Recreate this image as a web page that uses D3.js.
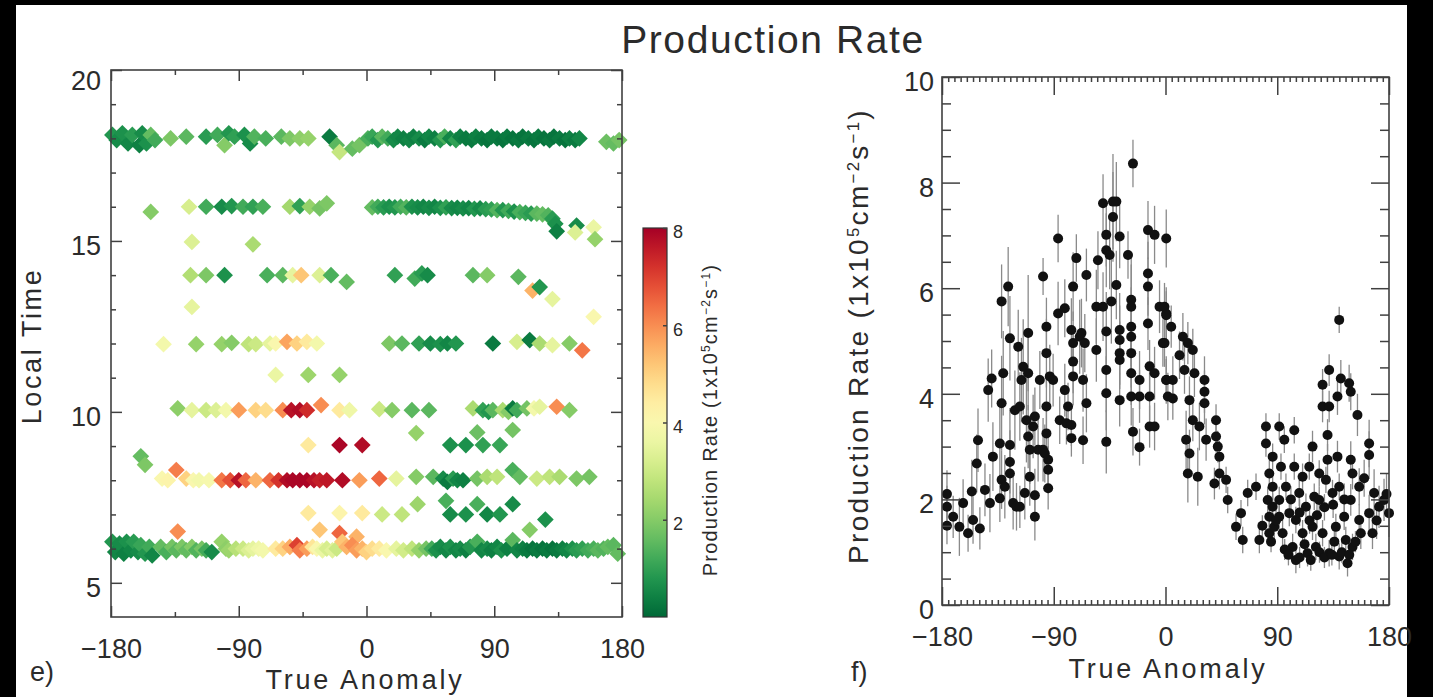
<!DOCTYPE html>
<html>
<head>
<meta charset="utf-8">
<title>production rate</title>
<script src="https://cdn.jsdelivr.net/npm/d3@7"></script>
<style>
  body { margin: 0; background: #000; }
  text { font-family: "Liberation Sans", Arial, sans-serif; fill: #2b2b2b; }
</style>
</head>
<body>
<script>
// ---- tick labels ----
var taTicks = [-180, -90, 0, 90, 180];
var ltTicks = [5, 10, 15, 20];
var rateTicks = [0, 2, 4, 6, 8, 10];
var cbTicks = [2, 4, 6, 8];

// ---- panel e: [true anomaly, local time, production rate] by local time row ----
var row18 = [[-179,18.1,0.8],[-176,17.95,0.6],[-172,18.15,0.7],[-168,17.85,0.5],[-165,18.1,0.9],[-160,17.8,0.4],
  [-158,18.15,0.6],[-155,17.85,0.7],[-152,18.1,1.6],[-149,17.95,1.2],[-138,18.0,1.9],[-127,18.05,1.5],[-113,18.05,0.9],
  [-105,18.1,1.2],[-100,17.8,2.0],[-97,18.15,0.8],[-93,18.05,1.0],[-86,18.1,0.7],[-82,17.85,0.6],[-79,18.05,1.4],
  [-71,18.0,1.3],[-60,18.05,1.5],[-54,18.0,1.9],[-47,18.0,2.1],[-41,18.0,2.2],[-26,18.05,0.3],[-21,17.8,1.5],
  [-19,17.6,2.9],[-10,17.7,1.6],[-5,17.8,1.8],
  [1,18.0,1.3],[4,18.05,1.1],[8,17.95,0.8],[11,18.05,1.5],[15,18.0,1.2],[19,17.95,0.6],[22,18.05,0.5],[26,18.0,0.4],
  [30,17.95,0.5],[33,18.05,0.4],[37,18.0,0.6],[41,17.95,0.3],[44,18.05,0.5],[48,18.0,0.4],[52,17.95,0.8],[55,18.05,1.3],
  [59,18.0,0.5],[63,17.95,1.0],[66,18.05,0.4],[70,18.0,0.3],[74,17.95,0.3],[77,18.05,0.4],[81,18.0,0.3],[85,17.95,0.2],
  [88,18.05,0.3],[92,18.0,0.3],[96,17.95,0.2],[99,18.05,0.3],[103,18.0,0.2],[107,17.95,0.3],[110,18.05,0.2],
  [114,18.0,0.3],[118,17.95,0.2],[121,18.05,0.3],[125,18.0,0.2],[129,17.95,0.3],[132,18.05,0.2],[136,18.0,0.3],
  [140,17.95,0.2],[143,18.0,0.4],[147,17.95,0.3],[150,18.0,0.5],
  [169,17.9,1.7],[174,17.85,1.6],[178,17.95,1.8]];
var row16 = [[-152,15.85,2.0],[-125,16.0,3.2],[-113,16.0,1.2],[-102,16.0,0.6],[-95,16.02,0.8],[-87,16.0,1.2],
  [-80,16.0,1.0],[-73,16.0,1.3],[-54,16.0,2.4],[-47,16.02,1.0],[-40,16.0,2.2],[-33,15.95,1.8],[-28,16.1,1.9],
  [4,15.98,1.6],[8,16.0,1.2],[12,15.98,0.9],[16,16.0,0.7],[20,15.98,0.8],[24,16.0,1.2],[28,15.98,1.4],[32,16.0,0.7],
  [36,15.98,0.6],[40,16.0,0.5],[44,15.97,0.6],[48,16.0,0.5],[52,15.97,0.7],[56,15.98,1.0],[60,15.96,0.6],
  [64,15.97,0.5],[68,15.95,0.6],[72,15.96,0.5],[76,15.94,0.8],[80,15.95,0.6],[84,15.93,0.9],[88,15.92,1.0],
  [92,15.9,1.4],[96,15.9,0.8],[100,15.88,1.2],[104,15.86,0.7],[108,15.84,1.3],[112,15.82,1.1],[116,15.8,0.9],
  [120,15.8,1.5],[124,15.78,1.6],[128,15.75,1.4],[131,15.65,0.9],[133,15.5,0.7],[134,15.28,0.4],
  [148,15.45,0.6],[147,15.25,3.3],[160,15.4,3.6],[161,15.05,2.2]];
var row15 = [[-123,14.97,3.3],[-80,14.9,2.5]];
var row14 = [[-124,14.0,2.6],[-113,14.0,1.9],[-100,14.0,0.7],[-70,14.0,1.3],[-59,14.0,1.5],[-52,14.0,3.5],
  [-46,14.0,5.2],[-33,14.0,3.3],[-25,14.0,1.3],[-14,13.8,1.6],[20,14.0,1.0],[34,13.9,1.2],[39,14.05,0.9],
  [43,14.0,0.6],[75,14.0,1.5],[85,14.0,2.0],[107,13.95,1.5],[117,13.55,5.5],[122,13.65,0.8],[131,13.3,3.5]];
var row13 = [[-123,13.07,3.5],[160,12.78,4.0]];
var row12 = [[-143,11.98,3.8],[-120,11.98,2.2],[-102,11.98,2.2],[-95,12.02,2.0],[-83,11.98,2.8],[-78,11.98,3.0],
  [-68,12.0,3.5],[-64,12.0,4.0],[-56,12.05,5.7],[-49,12.0,5.0],[-42,12.05,4.5],[-35,12.0,3.8],[16,12.0,1.9],
  [25,12.0,1.5],[37,12.0,1.0],[45,12.0,0.6],[52,11.98,0.7],[57,12.0,0.5],[63,12.0,0.8],[89,12.0,0.3],
  [106,12.05,3.2],[115,12.1,0.3],[122,12.0,2.5],[131,11.95,3.5],[143,12.0,2.0],[152,11.8,6.3]];
var row11 = [[-64,11.08,3.6],[-41,11.08,2.3],[-19,11.08,2.2]];
var row10 = [[-133,10.1,2.1],[-123,10.05,3.5],[-113,10.05,3.0],[-106,10.05,3.3],[-99,10.05,3.8],[-90,10.05,5.8],
  [-78,10.05,5.0],[-71,10.05,4.8],[-59,10.05,6.0],[-53,10.05,7.7],[-47,10.05,7.8],[-42,10.05,7.3],[-32,10.2,6.0],
  [-19,10.05,4.5],[-12,10.05,3.7],[9,10.08,3.0],[18,10.05,2.0],[32,10.05,1.5],[44,10.05,1.5],[75,10.1,2.5],
  [82,10.05,1.0],[86,10.0,0.8],[89,10.05,1.5],[96,10.05,2.5],[100,10.0,2.0],[103,10.1,0.3],[106,10.05,1.2],
  [113,10.1,1.8],[118,10.1,3.8],[122,10.15,3.5],[134,10.15,6.0],[143,10.05,2.0]];
var row9 = [[-41,9.03,4.5],[-19,9.03,7.9],[-3,9.03,7.8],[59,9.03,0.7],[70,9.03,0.7],[82,9.03,1.0],[94,9.03,1.1],
  [35,9.38,2.2],[78,9.4,1.7],[103,9.47,1.8]];
var row8 = [[-159,8.7,1.6],[-156,8.45,1.9],[-144,8.05,4.0],[-140,8.0,4.2],[-134,8.3,6.2],[-127,8.05,5.0],
  [-122,8.0,4.0],[-118,8.0,3.8],[-111,8.0,3.9],[-102,8.0,6.3],[-96,8.0,6.8],[-90,8.0,7.7],[-85,8.0,6.5],
  [-78,8.0,5.5],[-68,8.0,6.5],[-62,8.0,7.2],[-56,8.0,7.8],[-52,8.0,7.9],[-47,8.0,7.9],[-42,8.0,7.9],[-37,8.0,7.7],
  [-33,8.0,7.5],[-28,8.0,7.6],[-17,8.0,7.8],[-5,8.0,5.8],[9,8.05,6.5],[21,8.05,3.5],[35,8.1,2.0],[47,8.1,1.5],
  [54,8.05,0.6],[57,7.95,0.3],[61,8.05,0.9],[64,8.0,0.5],[68,8.0,0.4],[78,8.05,1.8],[85,8.1,2.5],[92,8.1,2.8],
  [103,8.3,1.3],[108,8.1,1.6],[120,8.05,3.0],[129,8.1,2.8],[136,8.1,2.5],[148,8.05,1.9],[157,8.1,1.8]];
var row7 = [[-41,7.04,4.5],[-19,7.04,4.2],[-3,7.04,4.5],[11,7.0,3.0],[25,7.0,2.8],[36,7.3,2.3],[56,7.4,1.3],
  [59,7.0,0.6],[70,7.0,0.7],[78,7.3,1.3],[85,7.0,0.5],[94,7.0,0.8],[103,7.3,0.6],[115,6.55,2.0],[126,6.85,0.7]];
var row6 = [[-133,6.5,6.0],[-33,6.55,5.2],[-19,6.45,6.5],[-7,6.35,5.5],
  [-179,6.2,0.8],[-177,5.9,0.5],[-174,6.15,0.6],[-171,5.85,0.4],[-169,6.2,0.7],[-166,5.95,0.5],[-164,6.2,0.9],
  [-161,5.9,0.6],[-159,6.1,1.1],[-156,5.85,0.8],[-153,6.05,1.2],[-151,5.8,0.5],[-145,6.05,1.6],[-141,5.9,1.3],
  [-137,6.05,1.8],[-134,5.95,1.5],[-130,6.05,1.9],[-127,5.95,1.6],[-123,6.05,2.0],[-120,5.95,1.4],[-116,6.0,1.8],
  [-113,5.95,1.2],[-109,5.9,0.6],[-102,6.2,2.2],[-99,6.0,2.1],[-97,5.95,2.3],[-92,6.0,2.7],[-87,6.0,3.0],
  [-83,5.95,3.3],[-80,6.0,3.5],[-76,6.0,3.7],[-73,5.95,3.8],[-64,6.0,4.5],[-59,6.0,5.0],[-54,6.05,5.6],
  [-49,6.1,7.0],[-47,5.95,6.2],[-42,6.0,5.8],[-38,6.05,4.6],[-35,6.0,4.0],[-31,5.95,3.6],[-28,6.0,3.2],
  [-24,5.95,3.4],[-21,6.0,3.0],[-17,6.2,5.2],[-14,6.05,5.5],[-10,6.1,6.0],[-7,5.95,5.8],[-3,6.0,5.5],[0,5.9,5.0],
  [4,6.0,4.8],[9,6.0,4.5],[14,5.95,4.0],[21,6.0,3.5],[26,5.95,3.1],[32,6.0,2.8],[37,5.95,2.2],[42,6.0,1.8],
  [46,6.0,1.2],[49,5.95,0.7],[52,6.05,0.6],[56,5.95,0.5],[59,6.05,0.7],[63,5.95,0.5],[66,6.0,0.6],[70,5.95,0.4],
  [73,6.05,0.8],[78,6.2,1.3],[81,5.95,0.5],[85,6.0,0.6],[88,5.95,0.4],[92,6.05,0.5],[95,5.95,0.7],[99,6.0,0.4],
  [103,6.25,1.5],[106,5.95,0.5],[110,6.0,0.4],[113,5.95,0.3],[117,6.0,0.2],[120,5.95,0.3],[124,6.0,0.2],
  [127,5.95,0.3],[131,6.0,0.2],[134,5.95,0.3],[138,6.0,0.4],[141,5.95,0.5],[145,6.0,0.7],[148,5.95,0.9],
  [152,6.0,1.0],[156,5.95,1.2],[160,6.0,1.3],[163,5.95,1.5],[167,6.0,1.4],[170,6.05,1.6],[174,6.1,1.5],[177,5.85,1.6]];

// ---- panel f: [true anomaly, production rate, error] ----
var rateBefore = [[-176,2.10,0.45],[-176,1.86,0.40],[-176,1.50,0.35],[-171,1.67,0.40],[-166,1.48,0.55],
  [-163,1.93,0.45],[-159,1.36,0.35],[-156,2.15,0.60],[-155,1.61,0.45],[-152,2.68,0.55],[-151,3.12,0.60],
  [-149.5,1.45,0.40],[-145.4,2.18,0.50],[-142.8,4.07,0.60],[-141.4,1.93,0.55],[-140,4.29,0.55],[-139,2.81,0.65],
  [-133.4,2.02,0.45],[-133.4,3.06,0.70],[-132,5.75,0.70],[-132,2.37,0.55],[-132,3.82,0.90],[-130.7,4.39,0.80],
  [-129.4,2.24,0.60],[-126.7,6.03,0.75],[-125.3,5.05,0.80],[-125.3,3.03,0.70],[-125.3,2.71,0.60],[-125.3,2.49,0.55],
  [-122.7,1.93,0.50],[-121.3,3.69,0.75],[-120,1.86,0.45],[-118.6,4.89,0.70],[-117.3,1.86,0.40],[-117.3,3.76,0.65],
  [-116,4.26,0.80],[-114.6,4.51,0.90],[-113.3,2.12,0.50],[-112,3.50,0.80],[-110.6,5.15,1.10],[-110.6,4.39,0.70],
  [-110.6,3.19,0.60],[-109.3,2.43,0.55],[-109.3,2.94,0.65],[-106.6,3.38,0.60],[-105.2,1.67,0.45],[-105.2,3.57,0.55],
  [-105.2,2.08,0.50],[-102.6,2.94,0.60],[-101.2,4.26,0.55],[-98.6,6.22,0.35],[-98.6,2.94,0.60],[-97.2,2.87,0.55],
  [-95.9,5.27,0.55],[-95.9,4.77,0.65],[-95.9,3.76,0.55],[-95.9,3.25,0.60],[-94.5,2.75,0.50],[-94.5,2.56,0.45],
  [-94.5,2.21,0.40],[-93.2,4.33,0.60],[-90.5,4.26,0.50],[-86.5,6.94,0.45],[-86.5,5.52,0.60],[-85.2,3.50,0.45],
  [-81.1,5.62,0.55],[-81.1,4.07,0.50],[-79.8,3.44,0.40],[-78.5,3.76,0.45],[-75.8,3.16,0.35],[-75.8,3.41,0.40],
  [-75.8,5.21,0.60],[-74.4,6.03,0.65],[-74.4,4.33,0.55],[-74.4,4.61,0.60],[-74.4,4.96,0.60],[-71.8,6.57,0.45],
  [-69.1,5.08,0.70],[-67.7,5.15,0.65],[-66.4,4.26,0.60],[-66.4,3.12,0.45],[-65.0,4.96,0.55],[-63.7,6.25,0.50],
  [-63.7,3.82,0.55],[-55.7,4.83,0.60],[-55.7,5.65,0.70],[-54.4,6.53,0.55],[-50.3,7.61,0.55],[-50.3,5.65,0.65],
  [-47.7,7.01,0.60],[-47.7,6.72,0.70],[-47.7,5.18,0.75],[-47.7,4.45,0.80],[-47.7,4.01,0.70],[-47.7,3.09,0.60],
  [-45.0,6.63,0.65],[-43.6,5.75,0.80],[-42.3,7.64,0.90],[-42.3,7.35,0.85],[-39.6,7.64,0.75],[-39.6,6.06,0.65],
  [-36.9,6.98,0.60],[-36.9,5.21,0.70],[-36.9,5.02,0.65],[-36.9,4.77,0.60],[-36.9,4.64,0.55],[-36.9,3.88,0.50],
  [-30.2,6.63,0.45],[-27.6,5.78,0.90],[-27.6,5.65,0.80],[-27.6,5.27,0.75],[-27.6,5.08,0.70],[-27.6,4.77,0.65],
  [-27.6,4.39,0.60],[-27.6,3.95,0.55],[-26.2,8.36,0.45],[-26.2,3.28,0.45],[-20.9,4.26,0.55],[-20.9,3.95,0.50],
  [-20.9,2.99,0.35],[-14.1,7.10,0.55],[-14.1,6.28,0.60],[-14.1,6.03,0.55],[-14.1,5.33,0.50],[-12.8,4.52,0.50],
  [-12.8,3.95,0.45],[-12.8,3.38,0.40],[-8.8,7.01,0.55],[-8.8,4.39,0.50],[-8.8,3.38,0.45],[-4.8,5.65,0.50],
  [-2.1,4.96,0.45],[0.6,6.94,0.55],[0.6,5.52,0.50],[0.6,4.26,0.45],[1.9,3.95,0.45]];
var rateAfter = [[-0.8,5.65,0.45],[0.6,5.49,0.45],[4.6,5.27,0.40],[-0.8,4.96,0.45],[0.6,4.26,0.40],[5.9,4.26,0.45],
  [5.9,3.91,0.40],[11.3,4.73,0.45],[14,5.08,0.45],[15.3,4.45,0.45],[18,4.96,0.40],[19.3,3.88,0.45],[22,4.83,0.40],
  [23.3,4.39,0.45],[16.6,3.13,0.55],[19.3,2.87,0.45],[18,2.49,0.55],[26,2.43,0.55],[22,3.50,0.40],[27.3,3.38,0.45],
  [31.4,4.26,0.45],[31.4,4.04,0.40],[31.4,3.82,0.40],[32.7,3.13,0.40],[40.7,3.50,0.30],[40.7,3.19,0.30],
  [42.1,3.00,0.30],[43.4,2.81,0.30],[39.4,2.30,0.30],[43.4,2.49,0.30],[48.8,2.37,0.25],[50.1,1.99,0.25],
  [56.8,1.48,0.25],[60.8,1.74,0.25],[62.2,1.23,0.25],[66.2,2.12,0.25],[72.9,2.24,0.25],[75.6,1.23,0.25],
  [80.9,3.38,0.25],[80.9,3.06,0.25],[83.6,2.49,0.25],[82.3,1.99,0.25],[83.6,1.67,0.25],[83.6,1.36,0.25],
  [86.3,2.81,0.25],[86.3,2.24,0.25],[86.3,1.86,0.25],[87.6,1.48,0.25],[91.6,3.38,0.25],[93,2.62,0.25],
  [91.6,1.99,0.25],[91.6,1.67,0.25],[94.3,1.36,0.25],[95.7,3.13,0.25],[97,2.24,0.25],[99.7,1.74,0.25],
  [102.4,1.10,0.25],[103.7,3.31,0.25],[103.7,2.62,0.25],[105,1.61,0.25],[105,0.85,0.25],[107.7,2.12,0.25],
  [110.4,2.43,0.25],[110.4,1.36,0.25],[113.1,1.86,0.25],[114.4,0.98,0.25],[115.8,2.62,0.25],[118.4,3.00,0.30],
  [118.4,1.48,0.25],[119.8,2.05,0.25],[121.1,1.10,0.25],[123.8,2.49,0.25],[123.8,1.99,0.25],[126.5,4.17,0.30],
  [126.5,3.76,0.30],[126.5,1.36,0.25],[129.2,2.37,0.25],[130.5,3.22,0.30],[130.5,2.75,0.30],[131.8,4.45,0.30],
  [131.8,3.76,0.30],[131.8,0.98,0.25],[134.5,2.12,0.25],[137.2,1.48,0.25],[138.5,3.95,0.35],[138.5,2.81,0.30],
  [139.9,5.40,0.25],[139.9,2.24,0.25],[139.9,0.92,0.25],[141.2,4.29,0.35],[143.9,1.67,0.25],[145.2,1.23,0.25],
  [146.6,0.79,0.25],[147.9,4.20,0.35],[149.2,4.04,0.35],[149.2,2.75,0.35],[150.6,2.49,0.30],[149.2,1.99,0.30],
  [150.6,1.10,0.25],[154.6,3.60,0.40],[156,2.24,0.35],[156,1.61,0.30],[157.3,1.36,0.30],[164,3.06,0.45],
  [164,2.84,0.45],[164,1.74,0.35],[166.7,1.36,0.30],[168,2.12,0.45],[172,1.86,0.40],[176,1.99,0.40],[180,1.74,0.45],
  [96,1.05,0.2],[99,0.95,0.2],[108,0.9,0.2],[112,1.15,0.2],[117,0.85,0.2],[124,1.0,0.2],[128,0.9,0.2],
  [134,0.95,0.2],[136,1.2,0.2],[142,1.0,0.2],[148,0.95,0.2],[153,1.2,0.2],[89,1.6,0.2],[85,1.2,0.2],[78,1.5,0.2],
  [101,2.0,0.25],[108,1.75,0.25],[116,1.6,0.25],[122,1.7,0.25],[128,1.85,0.25],[135,1.9,0.25],[144,2.0,0.3],
  [160,2.4,0.35],[170,1.6,0.35],[178,2.1,0.4]];

var W = 1433, H = 697;
var ink = "#404040";

var svg = d3.select("body").append("svg").attr("width", W).attr("height", H);
svg.append("rect").attr("x", 16).attr("y", 5).attr("width", 1391).attr("height", 692).attr("fill", "#fff");

function styleAxis(g, size) {
  g.attr("font-family", null).attr("font-size", null);
  g.select(".domain").remove();
  g.selectAll("line").attr("stroke", ink).attr("stroke-width", 1.5);
  g.selectAll("text").style("font-size", size + "px").attr("fill", "#2b2b2b");
}

// ================= panel e =================
var xL = d3.scaleLinear().domain([-180, 180]).range([111, 622]);
var yL = d3.scaleLinear().domain([4, 20]).range([617, 70]);
var color = function(v) { return d3.interpolateRdYlGn(1 - Math.max(0, Math.min(8, v)) / 8); };

var allRows = [row6, row7, row8, row9, row10, row11, row12, row13, row14, row15, row16, row18];
var diamond = d3.symbol().type(d3.symbolSquare).size(140);
var gL = svg.append("g");
allRows.forEach(function(row) {
  gL.selectAll(null).data(row).enter().append("path")
    .attr("d", diamond)
    .attr("transform", function(d) { return "translate(" + xL(d[0]) + "," + yL(d[1]) + ") rotate(45)"; })
    .attr("fill", function(d) { return color(d[2]); });
});

var ltMinor = d3.range(5, 20).filter(function(v) { return v % 5 != 0; });
svg.append("g").attr("transform", "translate(0,617)")
  .call(d3.axisBottom(xL).tickValues(taTicks).tickSize(-11).tickPadding(22).tickSizeOuter(0))
  .call(styleAxis, 27);
svg.append("g").attr("transform", "translate(0,617)")
  .call(d3.axisBottom(xL).tickValues([-135, -45, 45, 135]).tickSize(-5).tickFormat("")).call(styleAxis, 27);
svg.append("g").attr("transform", "translate(0,70)")
  .call(d3.axisTop(xL).tickValues(taTicks).tickSize(-11).tickFormat("")).call(styleAxis, 27);
svg.append("g").attr("transform", "translate(0,70)")
  .call(d3.axisTop(xL).tickValues([-135, -45, 45, 135]).tickSize(-5).tickFormat("")).call(styleAxis, 27);
var ly = svg.append("g").attr("transform", "translate(111,0)")
  .call(d3.axisLeft(yL).tickValues(ltTicks).tickSize(-11).tickPadding(10)).call(styleAxis, 27);
ly.selectAll("text").attr("dy", function(d) { return d == 20 ? "0.72em" : "0.5em"; });
svg.append("g").attr("transform", "translate(111,0)")
  .call(d3.axisLeft(yL).tickValues(ltMinor).tickSize(-5).tickFormat("")).call(styleAxis, 27);
svg.append("g").attr("transform", "translate(622,0)")
  .call(d3.axisRight(yL).tickValues(ltTicks).tickSize(-11).tickFormat("")).call(styleAxis, 27);
svg.append("g").attr("transform", "translate(622,0)")
  .call(d3.axisRight(yL).tickValues(ltMinor).tickSize(-5).tickFormat("")).call(styleAxis, 27);
svg.append("rect").attr("x", 111).attr("y", 70).attr("width", 511).attr("height", 547)
  .attr("fill", "none").attr("stroke", ink).attr("stroke-width", 1.6);

// colour bar
var cb = d3.scaleLinear().domain([0, 8]).range([617, 228]);
var grad = svg.append("defs").append("linearGradient").attr("id", "cbgrad")
  .attr("x1", 0).attr("y1", 1).attr("x2", 0).attr("y2", 0);
grad.selectAll("stop").data(d3.range(0, 1.0001, 0.05)).enter().append("stop")
  .attr("offset", function(t) { return t; })
  .attr("stop-color", function(t) { return color(t * 8); });
svg.append("rect").attr("x", 643).attr("y", 228).attr("width", 24).attr("height", 389)
  .attr("fill", "url(#cbgrad)").attr("stroke", "#333").attr("stroke-width", 1.2);
var cbAxis = svg.append("g").attr("transform", "translate(667,0)")
  .call(d3.axisRight(cb).tickValues(cbTicks).tickSize(-4).tickPadding(6)).call(styleAxis, 18);
cbAxis.selectAll("text").attr("dy", "0.55em");

// ================= panel f =================
var xR = d3.scaleLinear().domain([-180, 180]).range([942, 1389]);
var yR = d3.scaleLinear().domain([0, 10]).range([605, 77]);
var allRates = rateBefore.concat(rateAfter);

var gR = svg.append("g");
gR.selectAll(".err").data(allRates).enter().append("line").attr("class", "err")
  .attr("x1", function(d) { return xR(d[0]); }).attr("x2", function(d) { return xR(d[0]); })
  .attr("y1", function(d) { return yR(d[1] - d[2]); }).attr("y2", function(d) { return yR(d[1] + d[2]); })
  .attr("stroke", "#8a8a8a").attr("stroke-width", 1.3);
gR.selectAll(".dot").data(allRates).enter().append("circle").attr("class", "dot")
  .attr("cx", function(d) { return xR(d[0]); }).attr("cy", function(d) { return yR(d[1]); })
  .attr("r", 5).attr("fill", "#111");

var taMinor = d3.range(-175, 180, 5).filter(function(v) { return v % 90 != 0; });
var rateMinor = d3.range(0.5, 10, 0.5).filter(function(v) { return v % 2 != 0; });
svg.append("g").attr("transform", "translate(0,605)")
  .call(d3.axisBottom(xR).tickValues(taTicks).tickSize(-18).tickPadding(22)).call(styleAxis, 27);
svg.append("g").attr("transform", "translate(0,605)")
  .call(d3.axisBottom(xR).tickValues(taMinor).tickSize(-5).tickFormat("")).call(styleAxis, 27);
svg.append("g").attr("transform", "translate(0,77)")
  .call(d3.axisTop(xR).tickValues(taTicks).tickSize(-18).tickFormat("")).call(styleAxis, 27);
svg.append("g").attr("transform", "translate(0,77)")
  .call(d3.axisTop(xR).tickValues(taMinor).tickSize(-5).tickFormat("")).call(styleAxis, 27);
var ry = svg.append("g").attr("transform", "translate(942,0)")
  .call(d3.axisLeft(yR).tickValues(rateTicks).tickSize(-18).tickPadding(8)).call(styleAxis, 27);
ry.selectAll("text").attr("dy", "0.5em");
svg.append("g").attr("transform", "translate(942,0)")
  .call(d3.axisLeft(yR).tickValues(rateMinor).tickSize(-9).tickFormat("")).call(styleAxis, 27);
svg.append("g").attr("transform", "translate(1389,0)")
  .call(d3.axisRight(yR).tickValues(rateTicks).tickSize(-18).tickFormat("")).call(styleAxis, 27);
svg.append("g").attr("transform", "translate(1389,0)")
  .call(d3.axisRight(yR).tickValues(rateMinor).tickSize(-9).tickFormat("")).call(styleAxis, 27);
svg.append("rect").attr("x", 942).attr("y", 77).attr("width", 447).attr("height", 528)
  .attr("fill", "none").attr("stroke", ink).attr("stroke-width", 1.6);

// ================= labels =================
svg.append("text").attr("x", 773).attr("y", 53).attr("text-anchor", "middle")
  .style("font-size", "39px").style("letter-spacing", "1.6px").text("Production Rate");
svg.append("text").attr("transform", "translate(41,346) rotate(-90)").attr("text-anchor", "middle")
  .style("font-size", "27px").style("letter-spacing", "2.6px").text("Local Time");
svg.append("text").attr("x", 365).attr("y", 689).attr("text-anchor", "middle")
  .style("font-size", "27px").style("letter-spacing", "2.8px").text("True Anomaly");
svg.append("text").attr("x", 1168).attr("y", 678).attr("text-anchor", "middle")
  .style("font-size", "27px").style("letter-spacing", "2.8px").text("True Anomaly");
svg.append("text").attr("x", 30).attr("y", 681).style("font-size", "27px").text("e)");
svg.append("text").attr("x", 851).attr("y", 681).style("font-size", "27px").text("f)");

function unitLabel(sel, size) {
  sel.append("tspan").text("Production Rate (1x10");
  sel.append("tspan").attr("baseline-shift", "super").style("font-size", (size * 0.6) + "px").text("5");
  sel.append("tspan").text("cm");
  sel.append("tspan").attr("baseline-shift", "super").style("font-size", (size * 0.6) + "px").text("\u22122");
  sel.append("tspan").text("s");
  sel.append("tspan").attr("baseline-shift", "super").style("font-size", (size * 0.6) + "px").text("\u22121");
  sel.append("tspan").text(")");
}
svg.append("text").attr("transform", "translate(868,336) rotate(-90)").attr("text-anchor", "middle")
  .style("font-size", "28px").style("letter-spacing", "2.3px").call(unitLabel, 28);
svg.append("text").attr("transform", "translate(717,420) rotate(-90)").attr("text-anchor", "middle")
  .style("font-size", "20px").style("letter-spacing", "1.2px").call(unitLabel, 20);
</script>
</body>
</html>
